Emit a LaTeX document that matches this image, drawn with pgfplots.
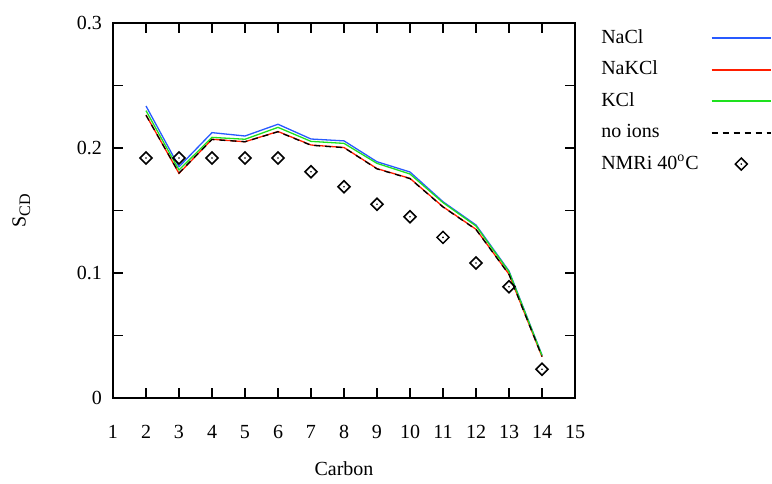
\documentclass[border=0pt]{standalone}
\usepackage{fontspec}
\setmainfont{Liberation Serif}
\usepackage{pgfplots}
\pgfplotsset{compat=1.18}

\definecolor{naclblue}{RGB}{40,90,255}
\definecolor{nakclred}{RGB}{255,30,0}
\definecolor{kclgreen}{RGB}{30,225,30}

\pgfdeclareplotmark{dotdiamond}{%
  \pgfpathmoveto{\pgfqpoint{0pt}{\pgfplotmarksize}}%
  \pgfpathlineto{\pgfqpoint{\pgfplotmarksize}{0pt}}%
  \pgfpathlineto{\pgfqpoint{0pt}{-\pgfplotmarksize}}%
  \pgfpathlineto{\pgfqpoint{-\pgfplotmarksize}{0pt}}%
  \pgfpathclose
  \pgfusepathqstroke
  \pgfpathcircle{\pgfpointorigin}{0.45pt}%
  \pgfusepathqfill
}

\begin{document}
\begin{tikzpicture}
\begin{axis}[
    scale only axis,
    width=231pt,
    height=187.5pt,
    xmin=1, xmax=15,
    ymin=0, ymax=0.3,
    xtick={1,2,...,15},
    ytick={0,0.1,0.2,0.3},
    minor ytick={0.05,0.15,0.25},
    yticklabels={0,0.1,0.2,0.3},
    major tick length=5pt,
    minor tick length=5pt,
    tick style={black, line width=0.6pt},
    axis line style={line width=0.8pt},
    /pgf/number format/assume math mode=true,
    xticklabel style={yshift=-10pt},
    yticklabel style={xshift=-2pt},
    xlabel={Carbon},
    ylabel={S{\fontsize{8}{9}\selectfont\raisebox{-2.2pt}{CD}}},
    xlabel style={yshift=-4.5pt},
    ylabel style={yshift=16.5pt},
    font=\fontsize{10}{12}\selectfont,
    legend style={
        at={(axis description cs:1.056,0.985)},
        anchor=north west,
        draw=none,
        fill=none,
        inner sep=0pt,
        row sep=6.75pt,
        column sep=6pt,
        nodes={inner sep=0pt, text height=7pt, text depth=2pt},
        font=\fontsize{10}{12}\selectfont,
    },
    legend cell align=left,
    legend plot pos=right,
    legend image code/.code={
        \draw[line width=1pt, every mark/.append style={line width=0.75pt},
              mark repeat=2, mark phase=2]
            plot coordinates {(0pt,0pt) (14.8pt,0pt) (29.6pt,0pt)};
    },
]

% NaCl
\addplot[color=naclblue, line width=0.65pt] coordinates {
    (2,0.2336) (3,0.1850) (4,0.2123) (5,0.2096) (6,0.2190) (7,0.2072)
    (8,0.2057) (9,0.1890) (10,0.1808) (11,0.1570) (12,0.1384) (13,0.1016) (14,0.0343)
};
% NaKCl
\addplot[color=nakclred, line width=0.65pt] coordinates {
    (2,0.2264) (3,0.1797) (4,0.2070) (5,0.2050) (6,0.2132) (7,0.2024)
    (8,0.2004) (9,0.1835) (10,0.1757) (11,0.1530) (12,0.1350) (13,0.0990) (14,0.0330)
};
% KCl
\addplot[color=kclgreen, line width=0.65pt] coordinates {
    (2,0.2299) (3,0.1824) (4,0.2085) (5,0.2070) (6,0.2165) (7,0.2053)
    (8,0.2037) (9,0.1877) (10,0.1792) (11,0.1563) (12,0.1376) (13,0.1010) (14,0.0340)
};
% no ions
\addplot[color=black, line width=0.65pt, dash pattern=on 3pt off 2.5pt] coordinates {
    (2,0.2262) (3,0.1800) (4,0.2068) (5,0.2050) (6,0.2130) (7,0.2022)
    (8,0.2003) (9,0.1833) (10,0.1755) (11,0.1528) (12,0.1348) (13,0.0988) (14,0.0332)
};
% NMRi 40 C
\addplot[only marks, mark=dotdiamond, mark size=3pt, line width=0.75pt, color=black] coordinates {
    (2,0.192) (3,0.192) (4,0.192) (5,0.192) (6,0.192) (7,0.181)
    (8,0.169) (9,0.155) (10,0.145) (11,0.1285) (12,0.108) (13,0.089) (14,0.023)
};

\legend{NaCl, NaKCl, KCl, no ions, NMRi 40\textsuperscript{o}C}
\end{axis}
\pgfresetboundingbox
\path[use as bounding box] (-56.5pt,-42.5pt) rectangle (329.5pt,199pt);
\end{tikzpicture}
\end{document}
